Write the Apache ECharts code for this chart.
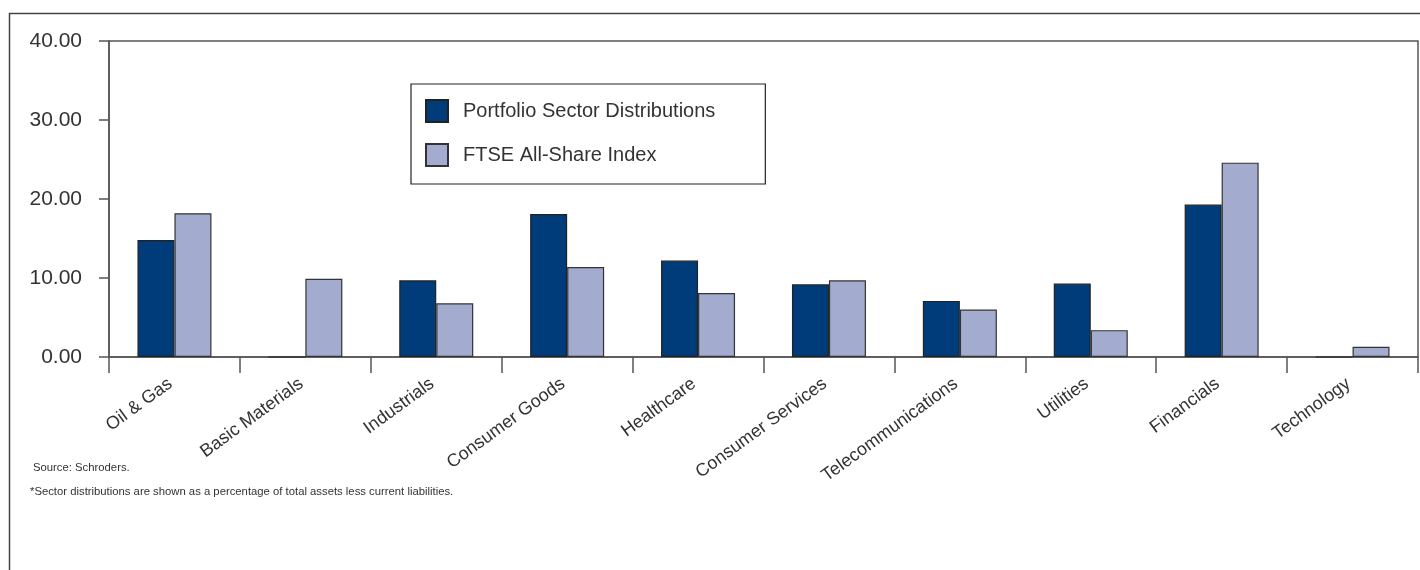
<!DOCTYPE html>
<html>
<head>
<meta charset="utf-8">
<script src="https://cdn.jsdelivr.net/npm/echarts@6/dist/echarts.min.js"></script>
<style>
html,body{margin:0;padding:0;background:#fff;}
#chart{width:1420px;height:570px;}
</style>
</head>
<body>
<div id="chart"></div>
<script>
var categories = ['Oil & Gas','Basic Materials','Industrials','Consumer Goods','Healthcare','Consumer Services','Telecommunications','Utilities','Financials','Technology'];
var portfolioValues = [14.8, 0, 9.7, 18.1, 12.2, 9.2, 7.1, 9.3, 19.3, 0];
var ftseValues = [18.2, 9.9, 6.8, 11.4, 8.1, 9.7, 6.0, 3.4, 24.6, 1.3];
var seriesNames = ['Portfolio Sector Distributions', 'FTSE All-Share Index'];
var yTicks = [0, 10, 20, 30, 40];
var footnotes = ['Source: Schroders.', '*Sector distributions are shown as a percentage of total assets less current liabilities.'];

var FONT = '"Liberation Sans", Arial, sans-serif';
var TXT = '#333';
var AX = '#555';

var chart = echarts.init(document.getElementById('chart'), null, {renderer: 'canvas'});
chart.setOption({
  animation: false,
  backgroundColor: '#fff',
  textStyle: {fontFamily: FONT},
  grid: {left: 109, top: 41, right: 2, bottom: 213, show: true, borderColor: AX, borderWidth: 1.5, containLabel: false},
  legend: {
    orient: 'vertical', left: 411, top: 84,
    padding: [15, 50, 17, 14],
    itemGap: 20, itemWidth: 22, itemHeight: 22,
    icon: 'rect',
    borderColor: '#222', borderWidth: 1.2,
    backgroundColor: '#fff',
    textStyle: {fontFamily: FONT, fontSize: 20, color: TXT, padding: [0, 0, 0, 10]},
    data: seriesNames
  },
  xAxis: {
    type: 'category', data: categories, boundaryGap: true,
    axisLine: {lineStyle: {color: AX, width: 1.5}},
    axisTick: {show: true, length: 16, alignWithLabel: false, lineStyle: {color: AX, width: 1.5}},
    axisLabel: {rotate: 36, interval: 0, margin: 22, fontSize: 18, color: TXT, fontFamily: FONT, padding: [0, 5, 0, 0]}
  },
  yAxis: {
    type: 'value', min: yTicks[0], max: yTicks[yTicks.length - 1], interval: 10,
    splitLine: {show: false},
    axisLine: {show: true, lineStyle: {color: AX, width: 1.5}},
    axisTick: {show: true, length: 10, lineStyle: {color: AX, width: 1.5}},
    axisLabel: {margin: 27, fontSize: 21, color: TXT, fontFamily: FONT, formatter: function (v) { return v.toFixed(2); }}
  },
  series: [
    {name: seriesNames[0], type: 'bar', data: portfolioValues, barWidth: 37, barGap: '0%',
     itemStyle: {color: '#003B7A', borderColor: '#222', borderWidth: 1.2}},
    {name: seriesNames[1], type: 'bar', data: ftseValues, barWidth: 37, barGap: '0%',
     itemStyle: {color: '#A3ACCF', borderColor: '#333', borderWidth: 1.2}}
  ],
  graphic: [
    {type: 'polyline', shape: {points: [[9.5, 570], [9.5, 13.5], [1420, 13.5]]}, style: {stroke: '#444', lineWidth: 1.5, fill: null}, silent: true},
    {type: 'text', left: 33, top: 462, style: {text: footnotes[0], font: '11.3px ' + FONT, fill: TXT}},
    {type: 'text', left: 30, top: 486, style: {text: footnotes[1], font: '11.3px ' + FONT, fill: TXT}}
  ]
});
</script>
</body>
</html>
